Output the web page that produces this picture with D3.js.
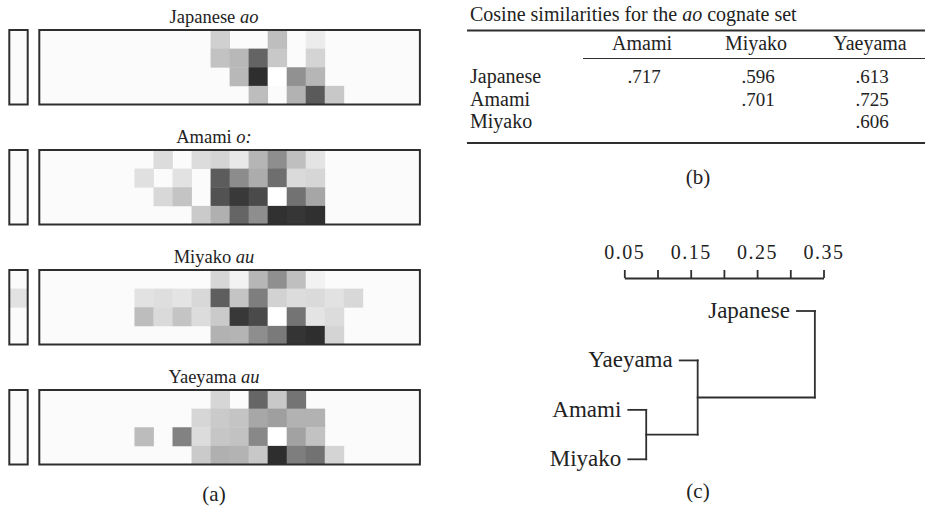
<!DOCTYPE html>
<html>
<head>
<meta charset="utf-8">
<script src="https://cdn.jsdelivr.net/npm/d3@7"></script>
<style>
  html, body { margin: 0; padding: 0; background: #fff; }
  svg { display: block; font-family: "Liberation Serif", "Times New Roman", serif; }
  text { fill: #222; }
</style>
</head>
<body>
<svg id="fig" width="925" height="511"></svg>
<script>
const _ = null;

// Grey level of each cell (0 = black, 255 = white, null = empty).
// Index 0 is the narrow side column, indices 1..20 are the main grid.
const japaneseAo = [
  [_,_,_,_,_,_,_,_,_,_,208,_,_,190,_,236,_,_,_,_,_],
  [_,_,_,_,_,_,_,_,_,_,194,184,100,200,_,212,_,_,_,_,_],
  [_,_,_,_,_,_,_,_,_,_,_,184,46,255,145,182,_,_,_,_,_],
  [_,_,_,_,_,_,_,_,_,_,_,_,189,_,178,90,200,_,_,_,_]
];
const amamiO = [
  [_,_,_,_,_,_,_,220,_,220,212,232,181,142,191,228,_,_,_,_,_],
  [_,_,_,_,_,_,224,_,226,_,92,140,172,110,218,214,_,_,_,_,_],
  [_,_,_,_,_,_,_,216,196,_,82,57,74,255,114,166,_,_,_,_,_],
  [_,_,_,_,_,_,_,_,_,202,176,101,142,49,54,48,_,_,_,_,_]
];
const miyakoAu = [
  [_,_,_,_,_,_,_,_,_,_,214,242,182,143,191,242,_,_,_,_,_],
  [226,_,_,_,_,_,226,222,228,216,94,196,126,210,220,218,226,216,_,_,_],
  [_,_,_,_,_,_,189,218,196,220,202,56,74,255,116,228,220,_,_,_,_],
  [_,_,_,_,_,_,_,_,_,_,178,180,142,122,52,46,212,_,_,_,_]
];
const yaeyamaAu = [
  [_,_,_,_,_,_,_,_,_,_,214,_,102,200,116,_,_,_,_,_,_],
  [_,_,_,_,_,_,_,_,_,214,202,196,167,159,178,178,_,_,_,_,_],
  [_,_,_,_,_,_,188,_,130,220,198,194,136,255,162,194,_,_,_,_,_],
  [_,_,_,_,_,_,_,_,_,202,176,179,200,46,126,114,212,_,_,_,_]
];

const panelNames = ["Japanese", "Amami", "Miyako", "Yaeyama"];
const panelForms = ["ao", "o:", "au", "au"];
const panelGrids = [japaneseAo, amamiO, miyakoAu, yaeyamaAu];

// Cosine similarity table
const tableCols = ["Amami", "Miyako", "Yaeyama"];
const tableRows = ["Japanese", "Amami", "Miyako"];
const japaneseSim = [".717", ".596", ".613"];
const amamiSim = [null, ".701", ".725"];
const miyakoSim = [null, null, ".606"];

// Clustering: leaves top to bottom, merges (child ids) and merge heights
const leafNames = ["Japanese", "Yaeyama", "Amami", "Miyako"];
const mergeA = ["Amami", "Yaeyama", "Japanese"];
const mergeB = ["Miyako", 0, 1];
const mergeHeights = [0.083, 0.1605, 0.337];
const axisTicks = [0.05, 0.10, 0.15, 0.20, 0.25, 0.30, 0.35];
const hang = 0.027;

const svg = d3.select("#fig");
const ink = "#2f2f2f";

/* ---------- (a) grids ---------- */
const nMain = 20, nRows = 4;
const colX = d3.scaleBand().domain(d3.range(nMain)).range([39.3, 419.9]);
const sideX = d3.scaleBand().domain([0]).range([9.3, 27.7]);
const rowY = d3.scaleBand().domain(d3.range(nRows)).range([0, 74.5]);
const panelTop = d3.scalePoint().domain(panelNames).range([30, 390]);
const grey = d3.scaleLinear().domain([0, 255]).range(["#000", "#fff"]);
const bg = "#fbfbfb";

panelNames.forEach((name, i) => {
  const g = svg.append("g").attr("transform", `translate(0,${panelTop(name)})`);
  const grid = panelGrids[i];

  g.append("rect").attr("x", sideX(0)).attr("y", 0)
    .attr("width", sideX.bandwidth()).attr("height", rowY.range()[1]).attr("fill", bg);
  g.append("rect").attr("x", colX(0)).attr("y", 0)
    .attr("width", colX.range()[1] - colX(0)).attr("height", rowY.range()[1]).attr("fill", bg);

  const cells = [];
  grid.forEach((row, r) => row.forEach((v, c) => { if (v !== null) cells.push({ r, c, v }); }));

  g.selectAll("rect.cell").data(cells).join("rect")
    .attr("class", "cell")
    .attr("x", d => d.c === 0 ? sideX(0) : colX(d.c - 1))
    .attr("y", d => rowY(d.r))
    .attr("width", d => d.c === 0 ? sideX.bandwidth() : colX.bandwidth() + 0.4)
    .attr("height", rowY.bandwidth() + 0.4)
    .attr("fill", d => grey(d.v));

  g.append("rect").attr("x", sideX(0)).attr("y", 0)
    .attr("width", sideX.bandwidth()).attr("height", rowY.range()[1])
    .attr("fill", "none").attr("stroke", ink).attr("stroke-width", 2);
  g.append("rect").attr("x", colX(0)).attr("y", 0)
    .attr("width", colX.range()[1] - colX(0)).attr("height", rowY.range()[1])
    .attr("fill", "none").attr("stroke", ink).attr("stroke-width", 2);

  const t = g.append("text").attr("x", 214).attr("y", -7)
    .attr("text-anchor", "middle").attr("font-size", 18.5);
  t.append("tspan").text(name + " ");
  t.append("tspan").attr("font-style", "italic").text(panelForms[i]);
});

svg.append("text").attr("x", 214).attr("y", 501)
  .attr("text-anchor", "middle").attr("font-size", 21).text("(a)");

/* ---------- (b) table ---------- */
const tabLeft = 467, tabRight = 925;
const colC = d3.scalePoint().domain(tableCols).range([642, 870]);
const rowB = d3.scalePoint().domain(tableRows).range([83, 128]);
const tableValues = [japaneseSim, amamiSim, miyakoSim];

const tt = svg.append("text").attr("x", 470).attr("y", 21).attr("font-size", 20);
tt.append("tspan").text("Cosine similarities for the ");
tt.append("tspan").attr("font-style", "italic").text("ao");
tt.append("tspan").text(" cognate set");

svg.append("line").attr("x1", tabLeft).attr("x2", tabRight).attr("y1", 30.5).attr("y2", 30.5)
  .attr("stroke", ink).attr("stroke-width", 1.8);
svg.append("line").attr("x1", 583).attr("x2", tabRight).attr("y1", 58.5).attr("y2", 58.5)
  .attr("stroke", ink).attr("stroke-width", 1.1);
svg.append("line").attr("x1", tabLeft).attr("x2", tabRight).attr("y1", 143).attr("y2", 143)
  .attr("stroke", ink).attr("stroke-width", 1.8);

svg.selectAll("text.hdr").data(tableCols).join("text")
  .attr("class", "hdr").attr("x", d => colC(d)).attr("y", 50)
  .attr("text-anchor", "middle").attr("font-size", 20).text(d => d);

svg.selectAll("text.rowlab").data(tableRows).join("text")
  .attr("class", "rowlab").attr("x", 470).attr("y", d => rowB(d))
  .attr("font-size", 20).text(d => d);

const tableCells = [];
tableRows.forEach((rn, r) => tableCols.forEach((cn, c) => {
  const v = tableValues[r][c];
  if (v !== null) tableCells.push({ rn, cn, v });
}));
svg.selectAll("text.val").data(tableCells).join("text")
  .attr("class", "val").attr("x", d => colC(d.cn) + 2).attr("y", d => rowB(d.rn))
  .attr("text-anchor", "middle").attr("font-size", 19).text(d => d.v);

svg.append("text").attr("x", 698).attr("y", 184)
  .attr("text-anchor", "middle").attr("font-size", 21).text("(b)");

/* ---------- (c) dendrogram ---------- */
const hx = d3.scaleLinear().domain([0.05, 0.35]).range([624.3, 823.5]);
const leafY = d3.scalePoint().domain(leafNames).range([311, 459.3]);
const axisY = 278;

const axis = d3.axisTop(hx)
  .tickValues(axisTicks)
  .tickFormat((d, i) => i % 2 === 0 ? d3.format(".2f")(d) : "")
  .tickSize(8).tickSizeOuter(0).tickPadding(11);

const ag = svg.append("g").attr("transform", `translate(0,${axisY})`).call(axis);
ag.select(".domain").attr("stroke", ink).attr("stroke-width", 1.8);
ag.selectAll(".tick line").attr("stroke", ink).attr("stroke-width", 1.8);
ag.selectAll(".tick text")
  .attr("font-family", '"Liberation Serif", serif').attr("font-size", 20)
  .attr("letter-spacing", 1.5).attr("fill", "#222");

// position of every node: leaves hang below their parent's height
const nodes = {};
const segs = [];
mergeHeights.forEach((h, i) => {
  const kids = [mergeA[i], mergeB[i]].map(k => {
    if (typeof k === "string") {
      const p = { x: h - hang, y: leafY(k), leaf: k };
      nodes[k] = p;
      return p;
    }
    return nodes["m" + k];
  });
  const y = d3.mean(kids, d => d.y);
  nodes["m" + i] = { x: h, y };
  kids.forEach(k => segs.push({ x1: k.x, y1: k.y, x2: h, y2: k.y }));
  segs.push({ x1: h, y1: kids[0].y, x2: h, y2: kids[1].y });
});

const dg = svg.append("g");
dg.selectAll("line").data(segs).join("line")
  .attr("x1", d => hx(d.x1)).attr("x2", d => hx(d.x2))
  .attr("y1", d => d.y1).attr("y2", d => d.y2)
  .attr("stroke", ink).attr("stroke-width", 1.8).attr("stroke-linecap", "square");

dg.selectAll("text").data(leafNames).join("text")
  .attr("x", d => hx(nodes[d].x) - 7).attr("y", d => leafY(d) + 7)
  .attr("text-anchor", "end").attr("font-size", 23).text(d => d);

svg.append("text").attr("x", 698).attr("y", 498)
  .attr("text-anchor", "middle").attr("font-size", 21).text("(c)");
</script>
</body>
</html>
